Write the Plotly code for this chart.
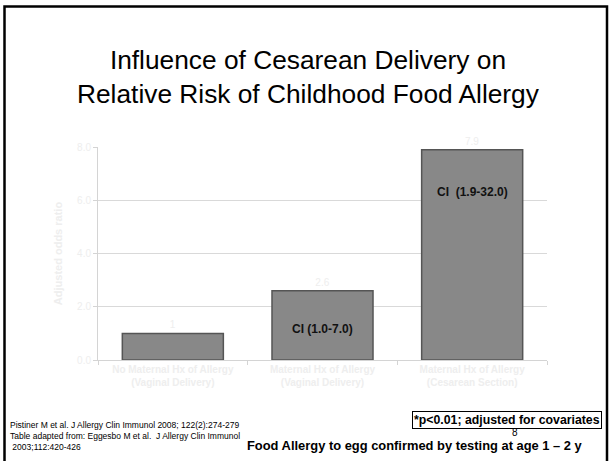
import plotly.graph_objects as go

categories = ["No Maternal Hx of Allergy<br>(Vaginal Delivery)",
              "Maternal Hx of Allergy<br>(Vaginal Delivery)",
              "Maternal Hx of Allergy<br>(Cesarean Section)"]
odds_ratio = [1.0, 2.6, 7.9]
bar_labels = ["1", "2.6", "7.9"]
ci_labels = ["", "CI (1.0-7.0)", "CI  (1.9-32.0)"]
ci_y = [0, 1.16, 6.3]
y_ticks = [0, 2, 4, 6, 8]
y_ticktext = ["0.0", "2.0", "4.0", "6.0", "8.0"]

W, H = 611, 461
L, R, T, B = 98, 547, 147, 360


def px(x):
    return (x - L) / (R - L)


def py(y):
    return (B - y) / (B - T)


faint = "#eeeeee"

fig = go.Figure()
fig.add_trace(go.Bar(
    x=categories, y=odds_ratio,
    text=bar_labels, textposition="outside",
    textfont=dict(color=faint, size=10, family="Liberation Sans"),
    marker=dict(color="#888888", line=dict(color="#555555", width=1.5)),
    cliponaxis=False,
))

annotations = []
for c, t, yv in zip(categories, ci_labels, ci_y):
    if t:
        annotations.append(dict(x=c, y=yv, xref="x", yref="y", text="<b>%s</b>" % t,
                                showarrow=False, font=dict(size=12, color="#111111",
                                                           family="Liberation Sans")))

annotations += [
    dict(x=px(308), y=py(77), xref="paper", yref="paper",
         text="Influence of Cesarean Delivery on<br>Relative Risk of Childhood Food Allergy",
         showarrow=False, xanchor="center", yanchor="middle", align="center",
         font=dict(size=26.3, color="#000000", family="Liberation Sans")),
    dict(x=px(8), y=py(436), xref="paper", yref="paper",
         text="Pistiner M et al. J Allergy Clin Immunol 2008; 122(2):274-279<br>"
              "Table adapted from: Eggesbo M et al.  J Allergy Clin Immunol<br>"
              " 2003;112:420-426",
         showarrow=False, xanchor="left", yanchor="middle", align="left",
         font=dict(size=8.5, color="#000000", family="Liberation Sans Narrow, Liberation Sans")),
    dict(x=px(507), y=py(420), xref="paper", yref="paper",
         text="<b>*p<0.01; adjusted for covariates</b>",
         showarrow=False, xanchor="center", yanchor="middle",
         bordercolor="#000000", borderwidth=1, borderpad=1, bgcolor="#ffffff",
         font=dict(size=12.3, color="#000000", family="Liberation Sans")),
    dict(x=px(515), y=py(432), xref="paper", yref="paper", text="8",
         showarrow=False, xanchor="center", yanchor="middle",
         font=dict(size=10, color="#000000", family="Liberation Sans")),
    dict(x=px(414.5), y=py(445), xref="paper", yref="paper",
         text="<b>Food Allergy to egg confirmed by testing at age 1 \u2013 2 y</b>",
         showarrow=False, xanchor="center", yanchor="middle",
         font=dict(size=12.9, color="#000000", family="Liberation Sans")),
]

shapes = [dict(type="rect", xref="paper", yref="paper",
               x0=px(4.5), x1=px(607), y0=py(475), y1=py(6.5),
               line=dict(color="#000000", width=2.5), layer="above")]

fig.update_layout(
    width=W, height=H,
    margin=dict(l=L, r=W - R, t=T, b=H - B),
    paper_bgcolor="#ffffff", plot_bgcolor="#ffffff",
    showlegend=False, bargap=0.325,
    font=dict(family="Liberation Sans"),
    annotations=annotations, shapes=shapes,
    xaxis=dict(showgrid=False, showline=True, linecolor="#d4d4d4", linewidth=1,
               ticks="outside", tickson="boundaries", ticklen=4, tickcolor="#d4d4d4",
               tickfont=dict(size=10, color=faint, family="Liberation Sans"),
               tickprefix="<b>", ticksuffix="</b>"),
    yaxis=dict(range=[0, 8], tickvals=y_ticks, ticktext=y_ticktext,
               showgrid=True, gridcolor="#d9d9d9", gridwidth=1,
               showline=True, linecolor="#d4d4d4", linewidth=1,
               ticks="outside", ticklen=4, tickcolor="#d4d4d4", zeroline=False,
               tickfont=dict(size=10, color=faint, family="Liberation Sans"),
               title=dict(text="<b>Adjusted odds ratio</b>", standoff=12,
                          font=dict(size=11, color=faint, family="Liberation Sans"))),
)

fig.write_html("out.html")
